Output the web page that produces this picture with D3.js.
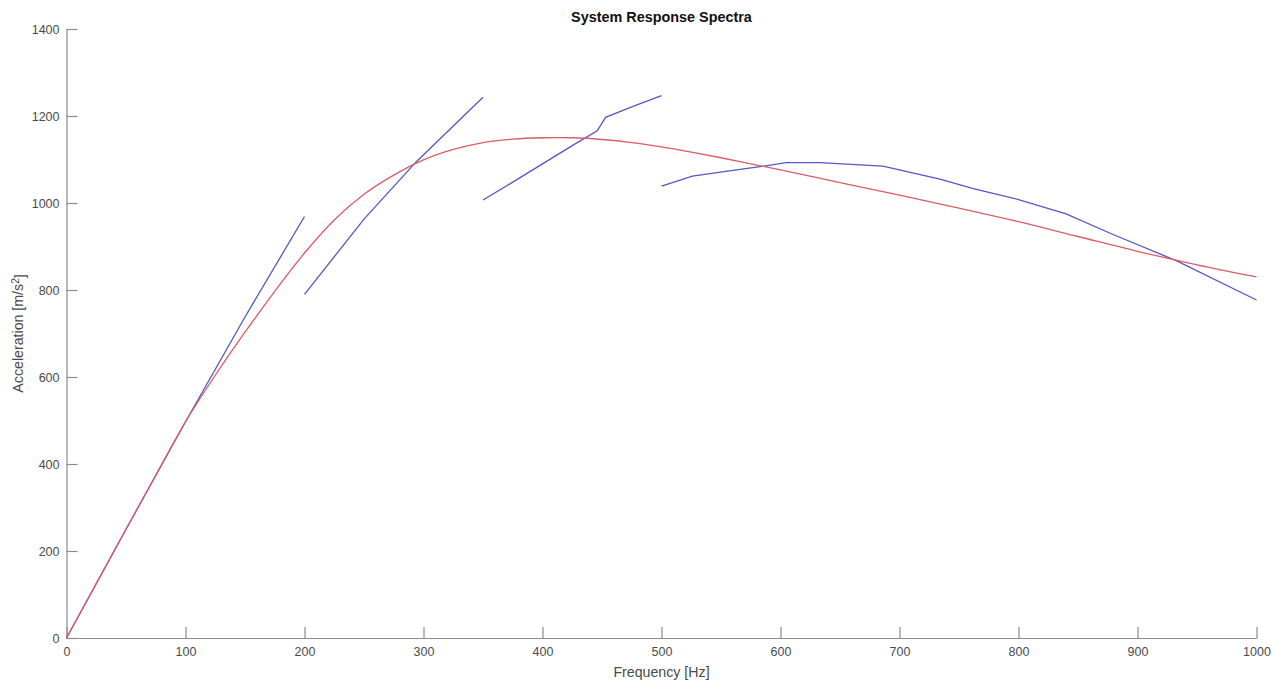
<!DOCTYPE html>
<html>
<head>
<meta charset="utf-8">
<script src="https://cdn.jsdelivr.net/npm/d3@7"></script>
<style>
  html, body { margin: 0; padding: 0; background: #fff; }
  svg { display: block; font-family: "Liberation Sans", Arial, sans-serif; }
</style>
</head>
<body>
<svg id="chart" width="1284" height="689"></svg>
<script>
// Fitted (smooth) response spectrum
const fitFreq = [0, 25, 50, 75, 100, 125, 150, 175, 200, 225, 250, 275, 300, 325, 350, 375, 400, 425, 450, 475, 500, 525, 550, 575, 600, 650, 700, 750, 800, 850, 900, 950, 1000];
const fitAcc  = [0, 125, 250, 374, 497, 604, 703, 797, 885, 961, 1020, 1064, 1099, 1123, 1139, 1147, 1150, 1150, 1146, 1139, 1129, 1117, 1104, 1090, 1076, 1047, 1018, 988, 957, 923, 889, 858, 830];

// Measured spectra, one array pair per frequency band
const band1Freq = [0, 50, 100, 150, 200];
const band1Acc  = [0, 250, 497, 738, 969];
const band2Freq = [200, 250, 294, 350];
const band2Acc  = [790, 963, 1095, 1243];
const band3Freq = [350, 375, 400, 425, 446, 453, 475, 500];
const band3Acc  = [1007, 1048, 1090, 1132, 1166, 1197, 1221, 1247];
const band4Freq = [500, 526, 560, 586, 605, 633, 686, 734, 762, 800, 840, 880, 933, 1000];
const band4Acc  = [1039, 1062, 1075, 1085, 1093, 1093, 1085, 1055, 1033, 1008, 975, 927, 867, 777];

const xTicks = [0, 100, 200, 300, 400, 500, 600, 700, 800, 900, 1000];
const yTicks = [0, 200, 400, 600, 800, 1000, 1200, 1400];

const svg = d3.select("#chart");
const W = 1284, H = 689;
const margin = { left: 66.5, right: W - 1256.5, top: 29, bottom: H - 638 };

const x = d3.scaleLinear().domain([0, 1000]).range([margin.left, W - margin.right]);
const y = d3.scaleLinear().domain([0, 1400]).range([H - margin.bottom, margin.top]);

const axisColor = "#8c8c8c";
const textColor = "#4a4a4a";

// Bottom axis, ticks pointing into the plot
const gx = svg.append("g")
  .attr("transform", `translate(0,${y(0)})`)
  .call(d3.axisBottom(x).tickValues(xTicks).tickSizeInner(-11).tickSizeOuter(0).tickPadding(9).tickFormat(d3.format("d")));
// Left axis
const gy = svg.append("g")
  .attr("transform", `translate(${x(0)},0)`)
  .call(d3.axisLeft(y).tickValues(yTicks).tickSizeInner(-11).tickSizeOuter(0).tickPadding(7).tickFormat(d3.format("d")));

[gx, gy].forEach(g => {
  g.select(".domain").attr("stroke", axisColor).attr("stroke-width", 1.2);
  g.selectAll(".tick line").attr("stroke", axisColor).attr("stroke-width", 1.2);
  g.selectAll(".tick text").attr("fill", textColor).attr("font-size", 12.5);
});
gx.selectAll(".tick text").attr("dy", "0.71em");

const zipPts = (f, a) => f.map((v, i) => [v, a[i]]);
const straight = d3.line().x(d => x(d[0])).y(d => y(d[1]));
const smooth = d3.line().x(d => x(d[0])).y(d => y(d[1])).curve(d3.curveCatmullRom.alpha(0.5));

const blue = "#5656c4";
const red = "#de5a66";

[[band1Freq, band1Acc], [band2Freq, band2Acc], [band3Freq, band3Acc], [band4Freq, band4Acc]].forEach(([f, a]) => {
  svg.append("path")
    .datum(zipPts(f, a))
    .attr("fill", "none")
    .attr("stroke", blue)
    .attr("stroke-width", 1.3)
    .attr("d", straight);
});

svg.append("path")
  .datum(zipPts(fitFreq, fitAcc))
  .attr("fill", "none")
  .attr("stroke", red)
  .attr("stroke-width", 1.3)
  .attr("d", smooth);

// Title and axis labels
const cx = (x(0) + x(1000)) / 2;
svg.append("text")
  .attr("x", cx).attr("y", 22)
  .attr("text-anchor", "middle")
  .attr("font-size", 14.4).attr("font-weight", "bold").attr("fill", "#111")
  .text("System Response Spectra");

svg.append("text")
  .attr("x", cx).attr("y", 677)
  .attr("text-anchor", "middle")
  .attr("font-size", 14.2).attr("fill", textColor)
  .text("Frequency [Hz]");

const yl = svg.append("text")
  .attr("transform", `translate(23,${(y(0) + y(1400)) / 2}) rotate(-90)`)
  .attr("text-anchor", "middle")
  .attr("font-size", 14.2).attr("fill", textColor);
yl.append("tspan").text("Acceleration [m/s");
yl.append("tspan").attr("dy", "-0.45em").attr("font-size", 10).text("2");
yl.append("tspan").attr("dy", "0.45em").text("]");
</script>
</body>
</html>
